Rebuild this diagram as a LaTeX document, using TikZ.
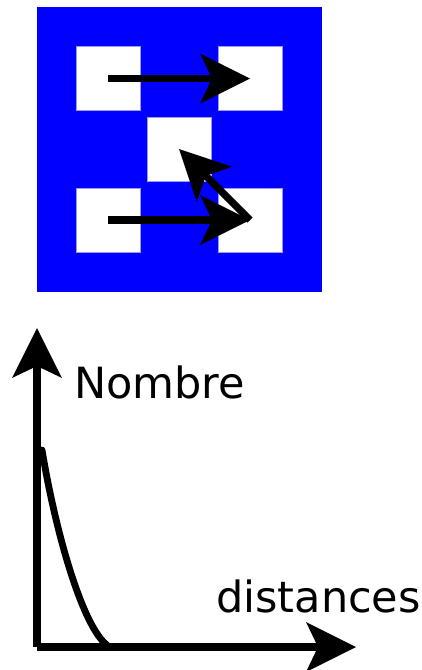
\documentclass[tikz,border=0pt]{standalone}
\usepackage{fontspec}
\setmainfont{DejaVu Sans}
\usetikzlibrary{arrows.meta}
\begin{document}
\begin{tikzpicture}[x=1pt,y=-1pt,
  sq/.style={fill=white,draw=blue!40,line width=0.6pt,minimum size=64pt,inner sep=0pt,outer sep=0pt},
  bigarrow/.style={line width=7.2pt,-{Stealth[length=50pt,width=50pt,inset=12pt,line width=0pt]}},
  axis/.style={line width=7.2pt,-{Stealth[length=50pt,width=50pt,inset=12pt,line width=0pt]}},
  lbl/.style={font=\fontsize{43}{51}\selectfont,inner sep=0pt,anchor=base west}]
\useasboundingbox (0,0) rectangle (421,670);
\fill[blue] (37,7) rectangle (322,292);
\node[sq] (tl) at (108,78.5) {};
\node[sq] (tr) at (250,78.5) {};
\node[sq] (c) at (179,149) {};
\node[sq] (bl) at (108,220) {};
\node[sq] (br) at (250,220) {};
\draw[bigarrow] (tl.center) -- (tr.center);
\draw[bigarrow] (bl.center) -- (br.center);
\draw[bigarrow] (br.center) -- (c.center);
% graph
\coordinate (o) at (37,647);
\coordinate (ytip) at (37,328);
\coordinate (xtip) at (356,647);
\draw[axis] (o) -- (ytip);
\draw[axis] (o) -- (xtip);
\draw[line width=6.8pt,line cap=round] (42,450) .. controls (57,540) and (84,628) .. (107,645);
\node[lbl] (nb) at (74,398) {Nombre};
\node[lbl] (ds) at (216,612) {distances};
\end{tikzpicture}
\end{document}
